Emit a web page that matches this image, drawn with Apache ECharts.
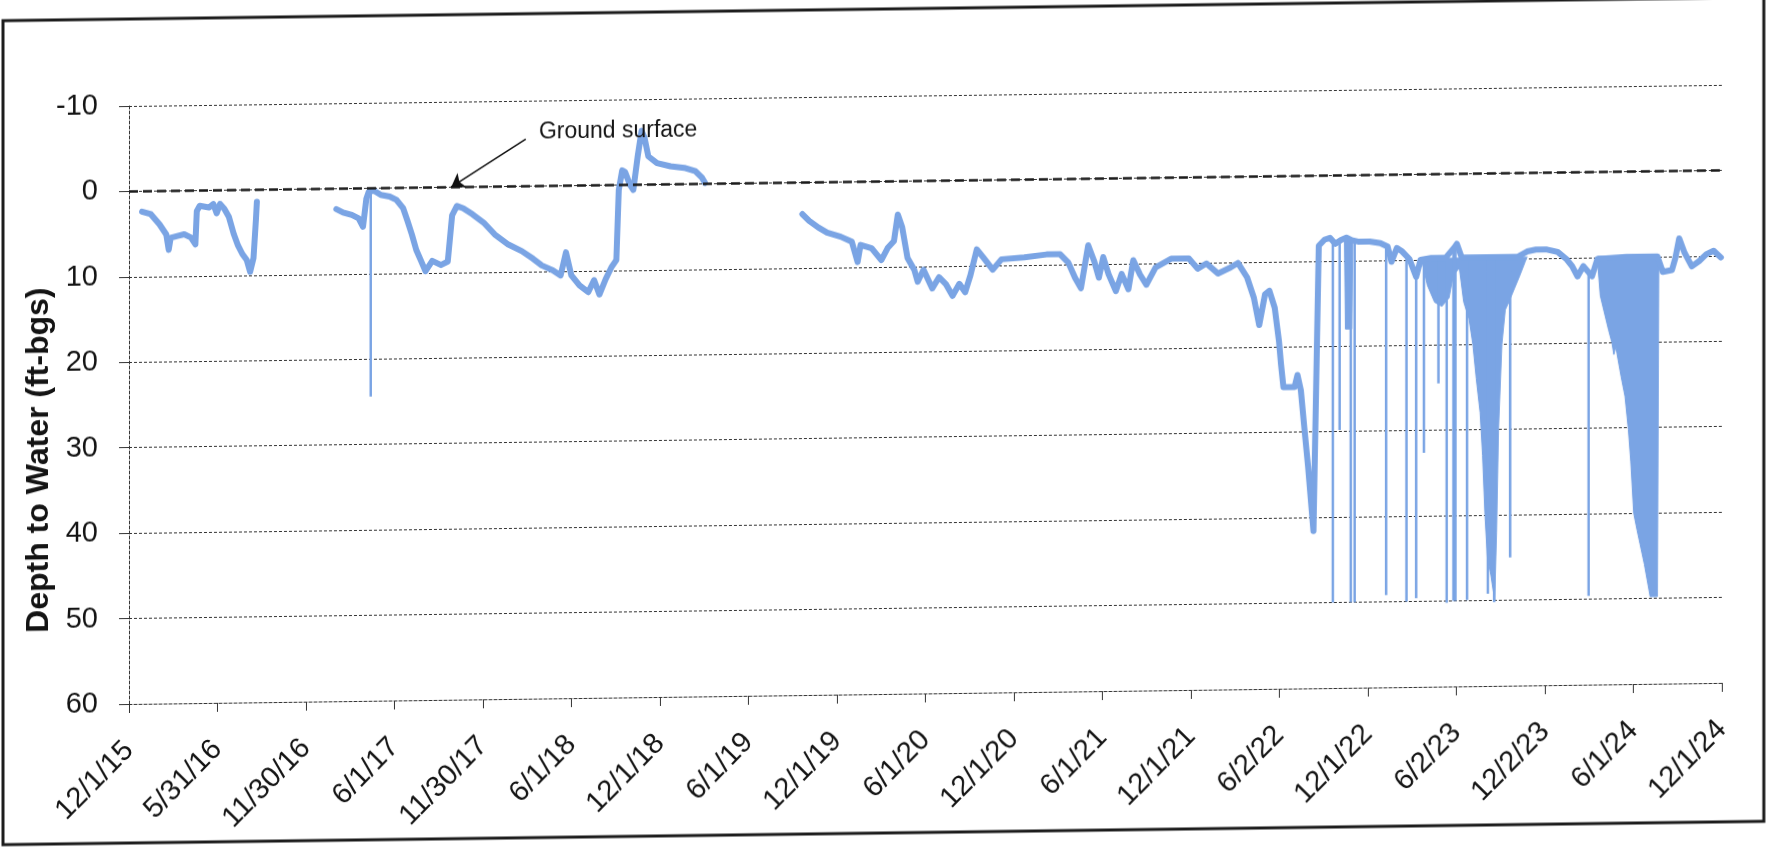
<!DOCTYPE html>
<html>
<head>
<meta charset="utf-8">
<script src="https://cdn.jsdelivr.net/npm/echarts@6/dist/echarts.min.js"></script>
<style>
html,body{margin:0;padding:0;background:#fff;overflow:hidden;}
#chart{width:1767px;height:848px;transform:skewY(-0.76deg);transform-origin:883.5px 424px;}
</style>
</head>
<body>
<div id="chart"></div>
<script>
// ---------- data ----------
const tickLabels = ['12/1/15','5/31/16','11/30/16','6/1/17','11/30/17','6/1/18','12/1/18','6/1/19','12/1/19','6/1/20','12/1/20','6/1/21','12/1/21','6/2/22','12/1/22','6/2/23','12/2/23','6/1/24','12/1/24'];
const axisStartDate = '2015-12-01';
const axisEndDate = '2024-12-01';
const depthMin = -10, depthMax = 60, depthStep = 10;
const groundSurfaceDepth = 0;
const yTitle = 'Depth to Water (ft-bgs)';

// depth to water record (null = no data / gap)
const obsDates = [
'2015-12-28','2016-01-15','2016-02-02','2016-02-16','2016-02-21','2016-02-25','2016-03-10','2016-03-24','2016-04-07','2016-04-16',
'2016-04-19','2016-04-25','2016-05-14','2016-05-23','2016-05-30','2016-06-06','2016-06-15','2016-06-24','2016-07-04','2016-07-13',
'2016-07-22','2016-07-31','2016-08-07','2016-08-14','2016-08-19','2016-08-21',
'2016-11-01',
'2017-02-01','2017-02-15','2017-03-05','2017-03-19','2017-03-28','2017-04-04','2017-04-09','2017-04-20','2017-05-04','2017-05-22',
'2017-06-05','2017-06-19','2017-06-28','2017-07-07','2017-07-16','2017-07-26','2017-08-04','2017-08-18','2017-09-05','2017-09-19',
'2017-09-28','2017-10-08','2017-10-21','2017-11-09','2017-12-02','2017-12-25','2018-01-22','2018-02-19','2018-03-14','2018-04-01',
'2018-04-24','2018-05-10','2018-05-21','2018-06-01','2018-06-18','2018-07-06','2018-07-18','2018-07-29','2018-08-11','2018-08-23',
'2018-09-02','2018-09-07','2018-09-14','2018-09-20','2018-09-30','2018-10-07','2018-10-16','2018-10-24','2018-10-30','2018-11-07',
'2018-11-25','2018-12-23','2019-01-20','2019-02-12','2019-02-26','2019-03-04',
'2019-06-01',
'2019-09-21','2019-10-05','2019-10-24','2019-11-11','2019-12-09','2020-01-01','2020-01-13','2020-01-19','2020-02-11','2020-03-02',
'2020-03-15','2020-03-28','2020-04-05','2020-04-14','2020-04-25','2020-05-09','2020-05-16','2020-05-28','2020-06-15','2020-06-29',
'2020-07-13','2020-07-27','2020-08-10','2020-08-22','2020-09-02','2020-09-15','2020-09-29','2020-10-18','2020-11-05','2020-12-22',
'2021-02-06','2021-03-06','2021-03-23','2021-04-06','2021-04-18','2021-05-03','2021-05-15','2021-05-25','2021-06-03','2021-06-14',
'2021-06-29','2021-07-11','2021-07-25','2021-08-04','2021-08-18','2021-08-31','2021-09-19','2021-10-21','2021-11-27','2021-12-15',
'2022-01-02','2022-01-26','2022-02-18','2022-03-08','2022-03-27','2022-04-10','2022-04-21','2022-05-03','2022-05-12','2022-05-23',
'2022-06-01','2022-06-05','2022-06-10','2022-07-03','2022-07-09','2022-07-16','2022-07-23','2022-07-31','2022-08-11','2022-08-22',
'2022-09-03','2022-09-14','2022-09-25','2022-10-06','2022-10-18','2022-10-29','2022-11-13','2022-12-05','2022-12-27','2023-01-11',
'2023-01-19','2023-01-30','2023-02-10','2023-02-25','2023-03-11','2023-03-20','2023-04-11','2023-05-11','2023-05-29','2023-06-03',
'2023-06-13','2023-08-08','2023-10-07','2023-10-26','2023-11-13','2023-12-06','2023-12-28','2024-01-16','2024-01-27','2024-02-07',
'2024-02-19','2024-03-08','2024-03-19','2024-05-18','2024-07-21','2024-08-01','2024-08-20','2024-08-27','2024-09-04','2024-09-15',
'2024-09-30','2024-10-15','2024-10-30','2024-11-14','2024-11-29'
];
const obsDepths = [
2.4,2.7,3.9,5.1,6.9,5.5,5.3,5.1,5.5,6.3,
2.4,1.8,2.0,1.6,2.7,1.6,2.2,3.1,5.1,6.5,
7.5,8.2,9.6,8.0,3.5,1.4,
null,
2.4,2.8,3.1,3.5,4.5,1.2,0.4,0.3,0.8,1.0,
1.4,2.4,3.9,5.5,7.3,8.6,9.8,8.6,9.1,8.7,
3.3,2.2,2.5,3.2,4.2,5.6,6.8,7.6,8.5,9.3,
9.9,10.5,7.8,10.5,11.7,12.5,11.1,12.8,11.0,9.6,
8.8,0.6,-1.7,-1.5,0.0,0.6,-3.3,-6.3,-5.5,-3.3,
-2.5,-2.1,-1.9,-1.5,-0.7,-0.1,
null,
3.7,4.5,5.3,5.9,6.4,7.0,9.4,7.4,7.8,9.2,
7.8,7.0,3.9,5.4,9.0,10.4,11.8,10.4,12.6,11.3,
12.1,13.5,12.1,13.1,11.1,8.1,9.1,10.5,9.3,9.1,
8.8,8.8,9.8,11.6,12.8,7.8,9.6,11.6,9.2,11.2,
13.2,11.2,13.0,9.6,11.3,12.5,10.5,9.5,9.5,10.7,
10.1,11.3,10.7,10.1,11.8,14.2,17.4,13.8,13.4,15.4,
19.4,22.0,24.7,24.7,23.3,25.1,29.4,34.1,41.6,8.2,
7.5,7.3,8.0,7.6,7.3,7.6,7.8,7.8,8.0,8.4,
10.2,8.6,9.0,9.9,12.0,10.0,9.8,9.8,8.6,8.2,
9.8,9.8,9.8,9.2,9.0,9.0,9.3,10.2,11.0,12.2,
11.0,12.2,10.2,10.0,10.0,11.8,11.6,10.2,7.9,9.6,
11.2,10.6,9.8,9.4,10.2
];

// brief drawdown readings (single-reading drops)
const spikeDates  = ['2017-04-13','2022-09-20','2022-10-04','2022-10-27','2022-11-04','2023-01-08','2023-02-19','2023-03-11','2023-03-27','2023-04-26','2023-05-13','2023-05-27','2023-05-31','2023-06-24','2023-08-06','2023-08-19','2023-09-21','2024-03-01'];
const spikeTops   = [0.4,7.8,7.6,7.6,7.7,8.3,9.6,12.0,10.0,9.8,9.8,8.7,8.4,9.8,9.8,9.8,9.8,11.5];
const spikeDepths = [24.4,50,29.8,50,50,49.2,50,49.6,32.6,24.5,50.2,50,50,49.9,49.2,50.2,45,49.6];

// dense pumping cycles: lower envelope of readings, filled up to the static level
const band1Dates  = ['2022-10-14','2022-10-16','2022-10-29','2022-10-31'];
const band1Depths = [7.5,18,18,7.6];
const band1Level  = 7.4;
const band2Dates  = ['2023-03-23','2023-04-03','2023-04-18','2023-05-03','2023-05-18','2023-05-26','2023-06-08','2023-06-17','2023-06-28','2023-07-06',
'2023-07-13','2023-07-21','2023-07-26','2023-07-31','2023-08-05','2023-08-12','2023-08-20','2023-08-24','2023-08-28','2023-09-04',
'2023-09-11','2023-09-19','2023-09-30','2023-10-11','2023-10-22','2023-10-26',
'2024-01-01',
'2024-03-19','2024-03-25','2024-04-11','2024-04-18','2024-04-22','2024-04-26','2024-05-07','2024-05-15','2024-05-22','2024-05-27',
'2024-06-02','2024-06-09','2024-06-15','2024-06-24','2024-07-06','2024-07-21','2024-07-24'];
const band2Depths = [10.2,13,15,15.5,14.5,12,11,15,17,20,
24,28,33,40,45,47,50,42,30,20,
16,15,13.5,12,10.4,9.8,
null,
10.2,14.5,18.5,20,21.4,20.5,24,26.3,30.2,34,
40,42,43.6,46,49.8,49.8,10.0];
const band2Level  = 9.8;

// annotation
const noteText = 'Ground surface';
const noteDate = '2018-03-26', noteDepth = -6.3;
const arrowFromDate = '2018-02-27', arrowFromDepth = -5.5;
const arrowToDate = '2017-09-26', arrowToDepth = 0;

// ---------- chart ----------
const startMs = Date.parse(axisStartDate);
const dayOf = s => (Date.parse(s) - startMs) / 86400000;
const spanDays = dayOf(axisEndDate);
const tickStep = spanDays / (tickLabels.length - 1);
const tickValues = tickLabels.map((_, i) => i * tickStep);
const pair = (dates, vals) => dates.map((d, i) => [dayOf(d), vals[i] === null ? '-' : vals[i]]);

const lineColor = '#7aa4e4';
const gridColor = '#333333';
const font = '"Liberation Sans", Arial, sans-serif';

const spikeData = [];
spikeDates.forEach((d, i) => {
  const x = dayOf(d);
  spikeData.push([x, spikeTops[i]], [x, spikeDepths[i]], [x, '-']);
});

const chart = echarts.init(document.getElementById('chart'), null, {renderer: 'canvas'});
chart.setOption({
  animation: false,
  backgroundColor: '#ffffff',
  grid: {left: 129, top: 96, width: 1593, height: 598, containLabel: false, outerBoundsMode: 'none'},
  xAxis: {
    type: 'value', min: 0, max: spanDays,
    axisLine: {show: true, onZero: false, lineStyle: {color: gridColor, width: 1, type: [3, 2]}},
    axisTick: {show: true, length: 9, customValues: tickValues, lineStyle: {color: gridColor, width: 1}},
    axisLabel: {
      customValues: tickValues, rotate: 45, margin: 42,
      formatter: v => { const k = Math.round(v / tickStep); return tickLabels[k] || ''; },
      fontSize: 29, fontFamily: font, color: '#141414'
    },
    splitLine: {show: false}
  },
  yAxis: {
    type: 'value', inverse: true, min: depthMin, max: depthMax, interval: depthStep,
    axisLine: {show: true, lineStyle: {color: gridColor, width: 1, type: [3, 2]}},
    axisTick: {show: true, length: 10, lineStyle: {color: gridColor, width: 1}},
    axisLabel: {margin: 31, fontSize: 29, fontFamily: font, color: '#141414'},
    splitLine: {show: true, lineStyle: {color: gridColor, width: 1, type: [3, 2]}}
  },
  graphic: [
    {type: 'rect', z: 100, shape: {x: 3, y: 9, width: 1761, height: 824},
     style: {fill: 'none', stroke: '#1c1c1c', lineWidth: 3}},
    {type: 'text', z: 100, x: 39, y: 449, rotation: Math.PI / 2,
     style: {text: yTitle, font: 'bold 32px ' + font, fill: '#141414', align: 'center', verticalAlign: 'middle'}}
  ],
  series: [
    {
      name: 'band1', type: 'line', data: pair(band1Dates, band1Depths), showSymbol: false, z: 2,
      lineStyle: {color: lineColor, width: 1}, areaStyle: {origin: band1Level, color: lineColor, opacity: 1}
    },
    {
      name: 'band2', type: 'line', data: pair(band2Dates, band2Depths), showSymbol: false, z: 2,
      lineStyle: {color: lineColor, width: 1}, areaStyle: {origin: band2Level, color: lineColor, opacity: 1}
    },
    {
      name: 'spikes', type: 'line', data: spikeData, showSymbol: false, z: 3,
      lineStyle: {color: lineColor, width: 2.5}
    },
    {
      name: 'Depth to Water', type: 'line', data: pair(obsDates, obsDepths), showSymbol: false, z: 4,
      connectNulls: false,
      lineStyle: {color: lineColor, width: 6, join: 'round', cap: 'round'},
      markLine: {
        silent: true, animation: false, symbol: ['none', 'none'],
        label: {show: false},
        data: [
          {yAxis: groundSurfaceDepth, symbol: 'none', lineStyle: {color: '#1a1a1a', width: 2.5, type: [9, 5]}},
          [
            {coord: [dayOf(arrowFromDate), arrowFromDepth], symbol: 'none', lineStyle: {color: '#111', width: 1.6, type: 'solid'}},
            {coord: [dayOf(arrowToDate), arrowToDepth], symbol: 'arrow', symbolSize: 13}
          ]
        ]
      },
      markPoint: {
        silent: true, animation: false,
        data: [{
          coord: [dayOf(noteDate), noteDepth], symbol: 'circle', symbolSize: 0,
          label: {show: true, formatter: noteText, position: 'right', distance: 0, color: '#141414', fontSize: 23, fontFamily: font}
        }]
      }
    }
  ]
});
</script>
</body>
</html>
